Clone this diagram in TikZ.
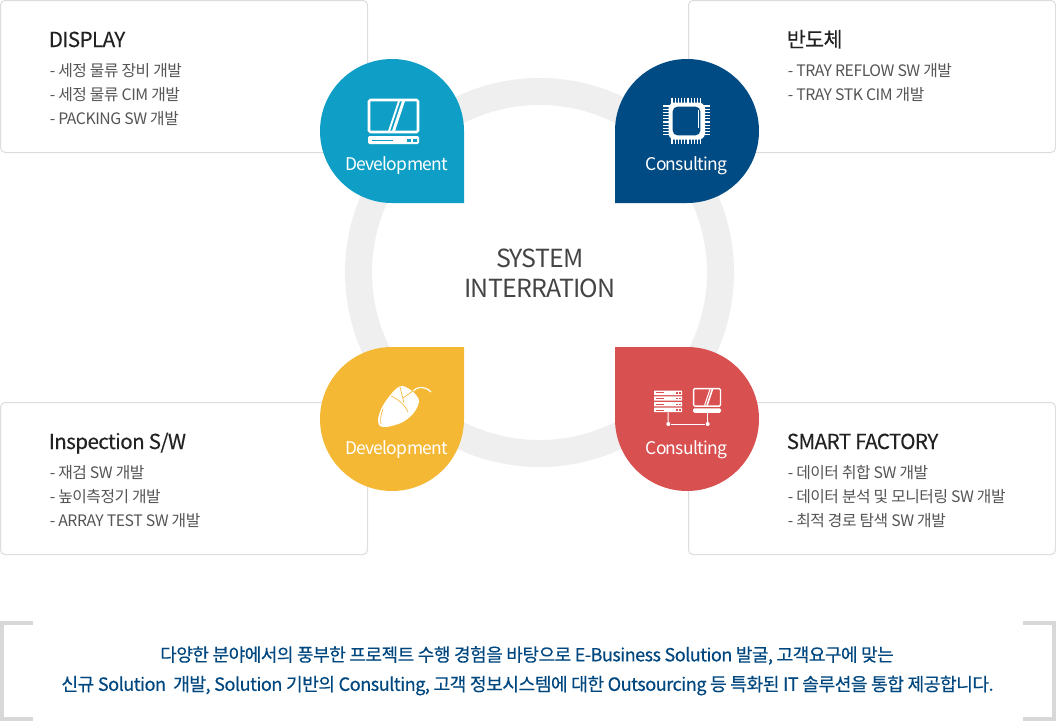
\documentclass[tikz,border=0pt]{standalone}
\usepackage{fontspec}
\setmainfont{Noto Sans CJK KR}[LetterSpace=-3]
\newfontfamily\labelfont{Noto Sans CJK KR}[LetterSpace=-4]
\newfontfamily\notefont{Noto Sans CJK KR}[LetterSpace=-3,FakeBold=0.3]
\newfontfamily\titlefont{Noto Sans CJK KR}[LetterSpace=-3,FakeBold=0.15]
\usepackage{tikz}
\definecolor{cardline}{HTML}{DDDDDD}
\definecolor{ringgray}{HTML}{EFEFEF}
\definecolor{bracketgray}{HTML}{D8D8D8}
\definecolor{tealdrop}{HTML}{0F9FC6}
\definecolor{navydrop}{HTML}{004B83}
\definecolor{yellowdrop}{HTML}{F4B835}
\definecolor{reddrop}{HTML}{D95050}
\definecolor{titletext}{HTML}{222222}
\definecolor{itemtext}{HTML}{555555}
\definecolor{centertext}{HTML}{444444}
\definecolor{bottomtext}{HTML}{00477F}
\tikzstyle{card} = [rectangle,rounded corners=3.5,draw=cardline,fill=white,line width=0.75pt]
\tikzstyle{cardtitle} = [anchor=base west,inner sep=0pt,text=titletext,font=\titlefont\fontsize{15.5pt}{15.5pt}\selectfont]
\tikzstyle{carditem} = [anchor=base west,inner sep=0pt,text=itemtext,font=\fontsize{11.85pt}{11.85pt}\selectfont]
\tikzstyle{nextitem} = [carditem,yshift=-18pt]
\tikzstyle{droplabel} = [inner sep=0pt,text=white,font=\labelfont\fontsize{13.1pt}{13.1pt}\selectfont]
\tikzstyle{notetext} = [inner sep=0pt,text=bottomtext,font=\notefont\fontsize{13.56pt}{13.56pt}\selectfont]
\tikzstyle{bracket} = [draw=bracketgray,line width=3pt]
\tikzstyle{racksty} = [rectangle,rounded corners=0.3,fill=white,minimum width=21pt,minimum height=3.3pt,inner sep=0pt]
\tikzstyle{dotsty} = [circle,fill=white,minimum size=3pt,inner sep=0pt]
\newcommand{\monitoricon}[3]{% x, y of the top left corner, scale
\begin{scope}[shift={(#1,#2)},scale=#3]
\draw[white,line width=#3*1.9pt,rounded corners=1] (1,1) rectangle (50,33);
\fill[white] (30,2) -- (32,2) -- (22,32) -- (20,32) -- cycle;
\fill[white] (34,2) -- (37,2) -- (27,32) -- (24,32) -- cycle;
\fill[white,rounded corners=1] (0,37) rectangle (51,45);
\end{scope}}
\begin{document}
\begin{tikzpicture}[x=0.75pt,y=-0.75pt]
\useasboundingbox (0,0) rectangle (1056,721);

% cards
\draw[card] (0.5,0.5) rectangle (367.5,152.5);
\draw[card] (688.5,0.5) rectangle (1055.5,152.5);
\draw[card] (0.5,402.5) rectangle (367.5,554.5);
\draw[card] (688.5,402.5) rectangle (1055.5,554.5);

% ring
\draw[ringgray,line width=20.25pt] (539.5,272.5) circle (181);
\node (center1) [font=\fontsize{18.7pt}{18.7pt}\selectfont,text=centertext,align=center,inner sep=0pt] at (540,273) {SYSTEM\\[3.9pt]INTERRATION};

% drops
\fill[tealdrop] (464,203) -- (392,203) arc (90:360:72) -- cycle;
\fill[navydrop] (615,203) -- (687,203) arc (90:-180:72) -- cycle;
\fill[yellowdrop] (464,347) -- (392,347) arc (-90:-360:72) -- cycle;
\fill[reddrop] (615,347) -- (687,347) arc (-90:180:72) -- cycle;
\node (lab1) [droplabel] at (396.5,165.5) {Development};
\node (lab2) [droplabel] at (686.5,165.5) {Consulting};
\node (lab3) [droplabel] at (396.5,449.5) {Development};
\node (lab4) [droplabel] at (686.5,449.5) {Consulting};

% icon monitor
\monitoricon{368}{99}{1}
\fill[tealdrop] (372,140) rectangle (393,141);
\fill[tealdrop] (407,139) rectangle (411,142);
\fill[tealdrop] (413,139) rectangle (417,142);

% icon chip
\foreach \i in {0,...,9}{
\draw[white,line width=0.9pt] (672+\i*3.2,97.5) -- (672+\i*3.2,144);
\draw[white,line width=0.9pt] (663,106+\i*3.2) -- (710,106+\i*3.2);
}
\fill[white,rounded corners=1] (672,102.5) -- (701,102.5) -- (705,106.5) -- (705,135.5) -- (701,139.5) -- (672,139.5) -- (668.5,135.5) -- (668.5,106.5) -- cycle;
\fill[navydrop,rounded corners=3.5] (672.7,106.7) rectangle (700.3,135.3);
\draw[white,line width=0.6pt] (698,110) -- (698,128);

% icon mouse
\fill[white] (380,426) .. controls (375,422) and (380,408) .. (388,398) .. controls (394,390) and (399,385) .. (403,386) .. controls (408,387) and (420,396) .. (419,402) .. controls (417,413) and (405,423) .. (395,425) .. controls (389,427) and (383,428) .. (380,426) -- cycle;
\draw[yellowdrop,line width=0.5pt] (391,396) .. controls (398,399) and (405,405) .. (408,412);
\draw[yellowdrop,line width=0.5pt] (400,387) -- (404,403);
\draw[yellowdrop,line width=0.5pt] (403,398) -- (413,391);
\draw[yellowdrop,line width=0.5pt] (383,409) .. controls (381,414) and (380,419) .. (381,424);
\draw[white,line width=0.9pt] (413,391) .. controls (418,386) and (425,386) .. (431,392);

% icon servers
\foreach \i in {0,...,3}{
\node (rack\i) [racksty] at (668,392.8+\i*5.7) {};
\fill[reddrop] (656,392.4+\i*5.7) rectangle (664,393.2+\i*5.7);
\fill[reddrop] (676,392.2+\i*5.7) rectangle (678,393.5+\i*5.7);
\fill[reddrop] (679,392.2+\i*5.7) rectangle (681,393.5+\i*5.7);
}
\monitoricon{693}{388}{0.55}
\node (dotl) [dotsty] at (668.3,424) {};
\node (dotr) [dotsty] at (707.7,424) {};
\coordinate (pcbase) at (707.7,412.7);
\draw[white,line width=0.75pt] (rack3) -- (dotl);
\draw[white,line width=0.75pt] (pcbase) -- (dotr);
\draw[white,line width=0.75pt] (dotl) -- (dotr);

% card texts
\node (title1) [cardtitle] at (48.5,47) {DISPLAY};
\node (item11) [carditem] at (49.5,76) {- 세정 물류 장비 개발};
\node (item12) [nextitem] at (item11.base west) {- 세정 물류 CIM 개발};
\node (item13) [nextitem] at (item12.base west) {- PACKING SW 개발};
\node (title2) [cardtitle] at (786.5,47) {반도체};
\node (item21) [carditem] at (787.5,76) {- TRAY REFLOW SW 개발};
\node (item22) [nextitem] at (item21.base west) {- TRAY STK CIM 개발};
\node (title3) [cardtitle] at (48.5,449) {Inspection S/W};
\node (item31) [carditem] at (49.5,478) {- 재검 SW 개발};
\node (item32) [nextitem] at (item31.base west) {- 높이측정기 개발};
\node (item33) [nextitem] at (item32.base west) {- ARRAY TEST SW 개발};
\node (title4) [cardtitle] at (786.5,449) {SMART FACTORY};
\node (item41) [carditem] at (787.5,478) {- 데이터 취합 SW 개발};
\node (item42) [nextitem] at (item41.base west) {- 데이터 분석 및 모니터링 SW 개발};
\node (item43) [nextitem] at (item42.base west) {- 최적 경로 탐색 SW 개발};

% bottom note
\draw[bracket] (33,623) -- (2,623) -- (2,719) -- (33,719);
\draw[bracket] (1023,623) -- (1054,623) -- (1054,719) -- (1023,719);
\node (note1) [notetext] at (527,655.5) {다양한 분야에서의 풍부한 프로젝트 수행 경험을 바탕으로 E-Business Solution 발굴, 고객요구에 맞는};
\node (note2) [notetext,font=\notefont\fontsize{13.65pt}{13.65pt}\selectfont] at (527.5,685.5) {신규 Solution\ \ 개발, Solution 기반의 Consulting, 고객 정보시스템에 대한 Outsourcing 등 특화된 IT 솔루션을 통합 제공합니다.};

\end{tikzpicture}
\end{document}
